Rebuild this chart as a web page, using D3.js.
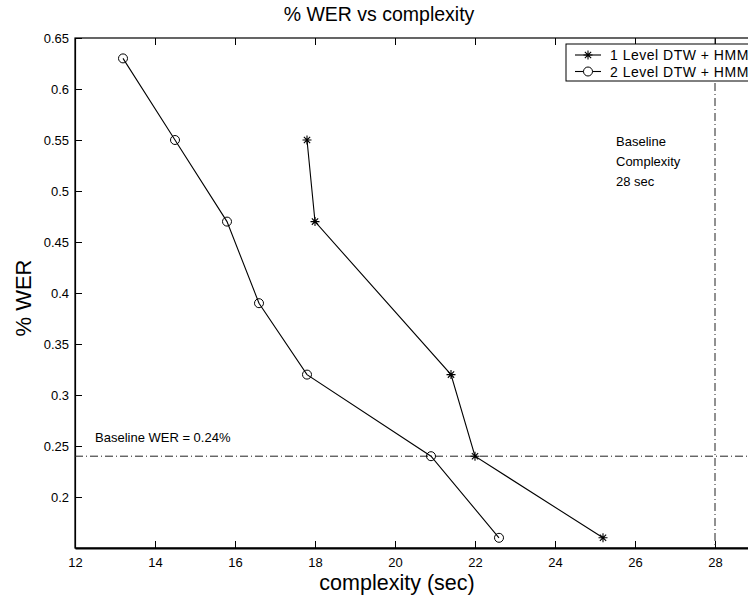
<!DOCTYPE html>
<html>
<head>
<meta charset="utf-8">
<script src="https://cdn.jsdelivr.net/npm/d3@7"></script>
<style>
  html, body { margin: 0; padding: 0; background: #fff; }
  svg { display: block; font-family: "Liberation Sans", Arial, Helvetica, sans-serif; }
</style>
</head>
<body>
<svg id="chart" width="748" height="600"></svg>
<script>
// Complexity (sec) and %WER for the two recognition schemes
const oneLevelX = [17.8, 18.0, 21.4, 22.0, 25.2];
const oneLevelY = [0.55, 0.47, 0.32, 0.24, 0.16];
const twoLevelX = [13.2, 14.5, 15.8, 16.6, 17.8, 20.9, 22.6];
const twoLevelY = [0.63, 0.55, 0.47, 0.39, 0.32, 0.24, 0.16];
const seriesNames = ["1 Level DTW + HMM", "2 Level DTW + HMM"];
const baselineWER = 0.24;
const baselineComplexity = 28;
const xTicks = [12, 14, 16, 18, 20, 22, 24, 26, 28];
const yTicks = [0.2, 0.25, 0.3, 0.35, 0.4, 0.45, 0.5, 0.55, 0.6, 0.65];

const svg = d3.select("#chart");
const m = { left: 75, top: 38, right: 795, bottom: 548 };
const x = d3.scaleLinear().domain([12, 30]).range([m.left, m.right]);
const y = d3.scaleLinear().domain([0.15, 0.65]).range([m.bottom, m.top]);
const tickLen = 7;

// Axes box
svg.append("rect")
  .attr("x", m.left).attr("y", m.top)
  .attr("width", m.right - m.left).attr("height", m.bottom - m.top)
  .attr("fill", "none").attr("stroke", "#000").attr("stroke-width", 1.2);

// Bottom axis with inward ticks
const xAxis = svg.append("g").attr("transform", `translate(0,${m.bottom})`)
  .call(d3.axisBottom(x).tickValues(xTicks).tickSizeInner(-tickLen).tickSizeOuter(0).tickPadding(10).tickFormat(d3.format("d")));
xAxis.select(".domain").attr("stroke-width", 2);
// Top axis ticks (mirrored)
const xTop = svg.append("g").attr("transform", `translate(0,${m.top})`)
  .call(d3.axisTop(x).tickValues(xTicks).tickSizeInner(-tickLen).tickSizeOuter(0).tickFormat(""));
xTop.select(".domain").remove();

// Left axis with inward ticks
const yAxis = svg.append("g").attr("transform", `translate(${m.left},0)`)
  .call(d3.axisLeft(y).tickValues(yTicks).tickSizeInner(-tickLen).tickSizeOuter(0).tickPadding(6).tickFormat(d => d3.format("")(+d.toFixed(2))));
yAxis.select(".domain").attr("stroke-width", 1.2);

svg.selectAll(".tick text").attr("font-size", 13).attr("fill", "#000")
  .attr("font-family", "Liberation Sans, Arial, sans-serif");
svg.selectAll(".tick line").attr("stroke", "#000");

// Baseline reference lines (dash-dot)
const dashDot = "8,3,1,3";
svg.append("line")
  .attr("x1", m.left).attr("x2", m.right)
  .attr("y1", y(baselineWER)).attr("y2", y(baselineWER))
  .attr("stroke", "#222").attr("stroke-width", 1).attr("stroke-dasharray", dashDot);
svg.append("line")
  .attr("x1", x(baselineComplexity)).attr("x2", x(baselineComplexity))
  .attr("y1", m.top).attr("y2", m.bottom)
  .attr("stroke", "#222").attr("stroke-width", 1).attr("stroke-dasharray", dashDot);

// Series lines
const line = d3.line().x(d => x(d[0])).y(d => y(d[1]));
const oneLevel = oneLevelX.map((v, i) => [v, oneLevelY[i]]);
const twoLevel = twoLevelX.map((v, i) => [v, twoLevelY[i]]);

[oneLevel, twoLevel].forEach(data => {
  svg.append("path").datum(data).attr("d", line)
    .attr("fill", "none").attr("stroke", "#000").attr("stroke-width", 1.1);
});

// Asterisk marker
function asterisk(g, cx, cy, r) {
  const p = `M${cx - r},${cy}L${cx + r},${cy}M${cx},${cy - r}L${cx},${cy + r}` +
    `M${cx - r * 0.7},${cy - r * 0.7}L${cx + r * 0.7},${cy + r * 0.7}` +
    `M${cx - r * 0.7},${cy + r * 0.7}L${cx + r * 0.7},${cy - r * 0.7}`;
  g.append("path").attr("d", p).attr("stroke", "#000").attr("stroke-width", 1.1).attr("fill", "none");
}
const gStars = svg.append("g");
oneLevel.forEach(d => asterisk(gStars, x(d[0]), y(d[1]), 4.5));

svg.append("g").selectAll("circle").data(twoLevel).join("circle")
  .attr("cx", d => x(d[0])).attr("cy", d => y(d[1])).attr("r", 4.5)
  .attr("fill", "none").attr("stroke", "#000").attr("stroke-width", 1);

// Annotations
svg.append("text").attr("x", 95).attr("y", 442).attr("font-size", 13)
  .text("Baseline WER = 0.24%");
const anno = svg.append("text").attr("x", 616).attr("y", 146).attr("font-size", 13);
["Baseline", "Complexity", "28 sec"].forEach((t, i) => {
  anno.append("tspan").attr("x", 616).attr("dy", i === 0 ? 0 : 20).text(t);
});

// Legend
const lg = svg.append("g");
lg.append("rect").attr("x", 566).attr("y", 44).attr("width", 222).attr("height", 37)
  .attr("fill", "#fff").attr("stroke", "#000").attr("stroke-width", 1);
const rows = [55, 71.5];
rows.forEach((ry, i) => {
  lg.append("line").attr("x1", 575).attr("x2", 601).attr("y1", ry).attr("y2", ry)
    .attr("stroke", "#000").attr("stroke-width", 1.1);
  if (i === 0) asterisk(lg, 588, ry, 4.5);
  else lg.append("circle").attr("cx", 588).attr("cy", ry).attr("r", 4.5)
    .attr("fill", "#fff").attr("stroke", "#000");
  lg.append("text").attr("x", 610).attr("y", ry + 5).attr("font-size", 14)
    .attr("letter-spacing", 0.5).text(seriesNames[i]);
});

// Title and axis labels
svg.append("text").attr("x", 379).attr("y", 21).attr("text-anchor", "middle")
  .attr("font-size", 19.5).text("% WER vs complexity");
svg.append("text").attr("x", 397).attr("y", 590).attr("text-anchor", "middle")
  .attr("font-size", 21.5).text("complexity (sec)");
svg.append("text").attr("transform", "translate(31,298) rotate(-90)").attr("text-anchor", "middle")
  .attr("font-size", 22).text("% WER");
</script>
</body>
</html>
